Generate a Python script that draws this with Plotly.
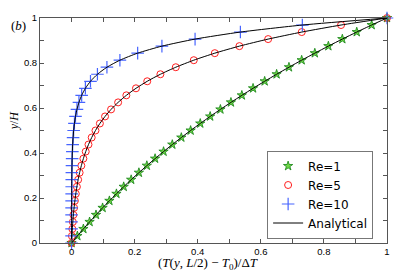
import plotly.graph_objects as go

# y/H positions (k/32)
y_pos = [k / 32 for k in range(33)]

temp_re1 = [0, 0.0185, 0.0375, 0.0572, 0.0775, 0.0984, 0.1200, 0.1423, 0.1653, 0.1890,
            0.2135, 0.2387, 0.2648, 0.2917, 0.3194, 0.3480, 0.3775, 0.4080, 0.4394, 0.4719,
            0.5053, 0.5398, 0.5754, 0.6122, 0.6501, 0.6892, 0.7295, 0.7712, 0.8141, 0.8584,
            0.9041, 0.9513, 1.0]
temp_re5 = [0, 0.00115, 0.00249, 0.00406, 0.00589, 0.00803, 0.01054, 0.01347, 0.01690, 0.02090,
            0.02558, 0.03105, 0.03745, 0.04494, 0.05368, 0.06390, 0.07586, 0.08984, 0.10617, 0.12527,
            0.14761, 0.17372, 0.20425, 0.23994, 0.28166, 0.33045, 0.38748, 0.45415, 0.53211, 0.62324,
            0.72979, 0.85437, 1.0]
temp_re10 = [0, 0.0000167, 0.0000394, 0.0000705, 0.000113, 0.000171, 0.000251, 0.000359, 0.000508, 0.000711,
             0.000988, 0.001367, 0.001885, 0.002593, 0.003561, 0.004884, 0.006693, 0.009165, 0.012543, 0.017162,
             0.023473, 0.032101, 0.043893, 0.060013, 0.082043, 0.11216, 0.15332, 0.20958, 0.28648, 0.39158,
             0.53524, 0.73159, 1.0]

x_ticks = [0, 0.2, 0.4, 0.6, 0.8, 1]
x_tick_labels = ["0", "0.2", "0.4", "0.6", "0.8", "1"]
y_ticks = [0, 0.2, 0.4, 0.6, 0.8, 1]
y_tick_labels = ["0", "0.2", "0.4", "0.6", "0.8", "1"]

fig = go.Figure()

fig.add_trace(go.Scatter(x=temp_re1, y=y_pos, mode="markers", name="Re=1",
                         marker=dict(symbol="star", size=7, color="rgb(110,215,70)",
                                     line=dict(color="rgb(20,130,20)", width=0.8)),
                         cliponaxis=False))
fig.add_trace(go.Scatter(x=temp_re5, y=y_pos, mode="markers", name="Re=5",
                         marker=dict(symbol="circle-open", size=7, color="rgb(255,30,30)",
                                     line=dict(width=1)),
                         cliponaxis=False))
fig.add_trace(go.Scatter(x=temp_re10, y=y_pos, mode="markers", name="Re=10",
                         marker=dict(symbol="cross-thin-open", size=9, color="rgb(70,100,255)",
                                     line=dict(width=1.2, color="rgb(70,100,255)")),
                         cliponaxis=False))

for vals, show in [(temp_re1, True), (temp_re5, False), (temp_re10, False)]:
    fig.add_trace(go.Scatter(x=vals, y=y_pos, mode="lines", name="Analytical",
                             line=dict(color="black", width=1, shape="spline", smoothing=0.6),
                             showlegend=show, cliponaxis=False))

axis_common = dict(showline=True, linecolor="#555", linewidth=1, mirror="ticks",
                   ticks="inside", ticklen=4, tickcolor="#555", showgrid=False, zeroline=False,
                   tickfont=dict(family="Liberation Sans", size=9.5, color="black"))

fig.update_xaxes(range=[-0.1, 1], tickvals=x_ticks, ticktext=x_tick_labels,
                 minor=dict(dtick=0.1, tick0=-0.1, ticks="inside", ticklen=4, tickcolor="#555"),
                 **axis_common)
fig.update_yaxes(range=[0, 1], tickvals=y_ticks, ticktext=y_tick_labels,
                 minor=dict(dtick=0.1, tick0=0, ticks="inside", ticklen=4, tickcolor="#555"),
                 **axis_common)

fig.update_layout(
    width=407, height=271,
    margin=dict(l=40, r=20, t=13, b=28),
    plot_bgcolor="white", paper_bgcolor="white",
    legend=dict(x=0.96, xanchor="right", y=0.02, yanchor="bottom",
                bordercolor="#777", borderwidth=1, bgcolor="white",
                font=dict(family="DejaVu Sans", size=12, color="black"),
                itemwidth=30, tracegroupgap=0),
    annotations=[
        dict(text="(<i>T</i>(<i>y</i>, <i>L</i>/2) − <i>T</i><sub>0</sub>)/Δ<i>T</i>",
             xref="paper", yref="paper", x=0.485, y=-0.05, xanchor="center", yanchor="top",
             borderpad=0,
             showarrow=False, font=dict(family="Liberation Serif", size=13, color="black")),
        dict(text="<i>y</i>/<i>H</i>", xref="paper", yref="paper", x=-0.075, y=0.545,
             xanchor="center", yanchor="middle", textangle=-90,
             showarrow=False, font=dict(family="Liberation Serif", size=12, color="black")),
        dict(text="(<i>b</i>)", xref="paper", yref="paper", x=-0.063, y=0.965,
             xanchor="center", yanchor="middle",
             showarrow=False, font=dict(family="Liberation Serif", size=13, color="black")),
    ],
)

fig.write_html("out.html", post_script="document.body.style.margin='0';",
               config={"displayModeBar": False})
